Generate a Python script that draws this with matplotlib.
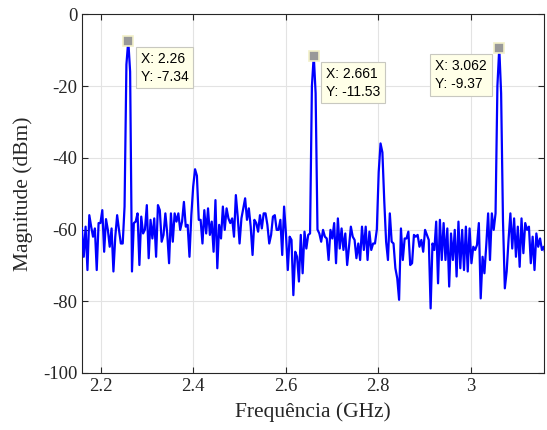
import numpy as np
import matplotlib
matplotlib.use("Agg")
import matplotlib.pyplot as plt

plt.rcParams['axes.unicode_minus'] = False

# eixo de frequencia (GHz), passo constante
f_start = 2.15975
f_step = 0.00401

# magnitude (dBm)
mag = [
    -59.7, -67.6, -59.2, -71.3, -56.0, -59.2, -62.0, -59.7, -71.3, -58.2,
    -58.2, -54.6, -66.2, -57.1, -60.1, -64.8, -59.7, -71.7, -62.0, -56.0,
    -60.1, -63.9, -63.9, -53.6, -14.0, -7.34, -16.0, -71.7, -58.2, -57.8,
    -55.5, -69.9, -56.4, -61.1, -60.0, -53.2, -68.0, -57.3, -62.5, -56.9,
    -67.6, -53.2, -54.6, -63.4, -61.5, -55.5, -61.1, -69.4, -55.5, -63.4,
    -55.5, -57.8, -55.5, -60.1, -57.8, -52.3, -59.2, -58.7, -67.6, -56.0,
    -48.0, -43.2, -45.0, -57.3, -57.3, -63.9, -54.6, -61.1, -54.1, -61.5,
    -57.8, -66.2, -51.8, -70.8, -58.7, -62.5, -53.6, -60.1, -54.1, -56.9,
    -58.2, -56.9, -62.0, -50.4, -56.4, -63.9, -56.9, -54.1, -51.3, -57.3,
    -54.1, -59.2, -67.1, -57.3, -58.2, -60.6, -56.0, -59.7, -55.5, -55.5,
    -58.7, -63.9, -61.5, -56.4, -56.0, -60.1, -60.1, -57.3, -67.1, -53.6,
    -61.1, -71.3, -62.0, -62.9, -78.3, -66.2, -67.6, -74.5, -61.5, -72.2,
    -60.6, -65.3, -61.5, -61.1, -20.0, -11.53, -22.0, -60.0, -61.1, -63.4,
    -60.1, -62.0, -62.5, -68.5, -60.1, -62.5, -58.2, -69.4, -56.9, -65.3,
    -59.7, -65.7, -61.1, -69.9, -64.8, -59.2, -62.0, -62.9, -68.0, -63.9,
    -68.5, -59.2, -65.7, -59.2, -68.5, -60.6, -65.7, -63.9, -63.9, -60.0,
    -44.0, -36.0, -38.5, -52.0, -63.4, -68.5, -55.5, -63.4, -63.9, -70.8,
    -73.6, -79.6, -59.7, -68.5, -62.5, -62.5, -60.6, -69.9, -69.4, -61.5,
    -62.0, -61.5, -64.8, -62.9, -66.2, -60.1, -61.5, -62.9, -82.0, -63.9,
    -65.7, -57.8, -75.0, -57.3, -68.5, -58.2, -68.5, -59.7, -75.9, -61.1,
    -68.5, -60.1, -73.1, -57.8, -70.8, -60.1, -71.3, -59.2, -71.7, -59.7,
    -69.4, -64.8, -65.7, -64.3, -58.2, -79.2, -67.6, -72.2, -64.3, -55.5,
    -68.5, -55.5, -60.1, -55.5, -20.0, -9.37, -22.0, -57.4, -76.4, -71.7,
    -62.9, -55.5, -65.3, -56.9, -67.6, -59.2, -70.4, -56.9, -66.6, -58.2,
    -60.1, -59.2, -69.4, -62.0, -71.3, -61.1, -64.8, -62.5, -65.7, -64.8,
    -67.1,
]
freq = f_start + f_step * np.arange(len(mag))

# marcadores (datatips)
tip_x = [2.26, 2.661, 3.062]
tip_y = [-7.34, -11.53, -9.37]
tip_lbl = ["X: 2.26\nY: -7.34", "X: 2.661\nY: -11.53", "X: 3.062\nY: -9.37"]
tip_off = [(9, -8), (9, -8), (-9, -8)]

axis_col = "#262626"

fig = plt.figure(figsize=(5.47, 4.30), dpi=100)
ax = fig.add_axes([0.1506, 0.1326, 0.9945 - 0.1506, 0.9667 - 0.1326])

ax.plot(freq, mag, color=(0, 0, 1), linewidth=1.6, zorder=3)

for x, y, t, off in zip(tip_x, tip_y, tip_lbl, tip_off):
    ax.plot([x], [y], marker="s", markersize=7.5, markerfacecolor="#999999",
            markeredgecolor="#f2f0c8", markeredgewidth=1.2, zorder=5)
    ha = "left" if off[0] > 0 else "right"
    ax.annotate(t, xy=(x, y), xytext=off, textcoords="offset points",
                ha=ha, va="top", multialignment="left", fontsize=10,
                family="Liberation Sans", linespacing=1.35, zorder=6,
                bbox=dict(boxstyle="square,pad=0.35", facecolor="#ffffe8",
                          edgecolor="#c8c8c0", linewidth=0.8))

ax.set_xlim(2.1608, 3.1587)
ax.set_ylim(-100, 0)
ax.set_xticks([2.2, 2.4, 2.6, 2.8, 3.0])
ax.set_xticklabels(["2.2", "2.4", "2.6", "2.8", "3"])
ax.set_yticks([0, -20, -40, -60, -80, -100])
ax.set_yticklabels(["0", "-20", "-40", "-60", "-80", "-100"])

ax.grid(True, color="#e3e3e3", linewidth=0.8)
ax.set_axisbelow(True)
for s in ax.spines.values():
    s.set_color(axis_col)
    s.set_linewidth(0.8)
ax.tick_params(direction="in", top=True, right=True, length=4,
               color=axis_col, labelcolor=axis_col, width=0.8)
for lbl in ax.get_xticklabels() + ax.get_yticklabels():
    lbl.set_family("Liberation Serif")
    lbl.set_fontsize(13.5)

ax.set_xlabel("Frequência (GHz)", family="Liberation Serif", fontsize=15.5,
              color=axis_col, labelpad=5)
ax.set_ylabel("Magnitude (dBm)", family="Liberation Serif", fontsize=15.5,
              color=axis_col, labelpad=7)

fig.savefig("out.png", dpi=100)
